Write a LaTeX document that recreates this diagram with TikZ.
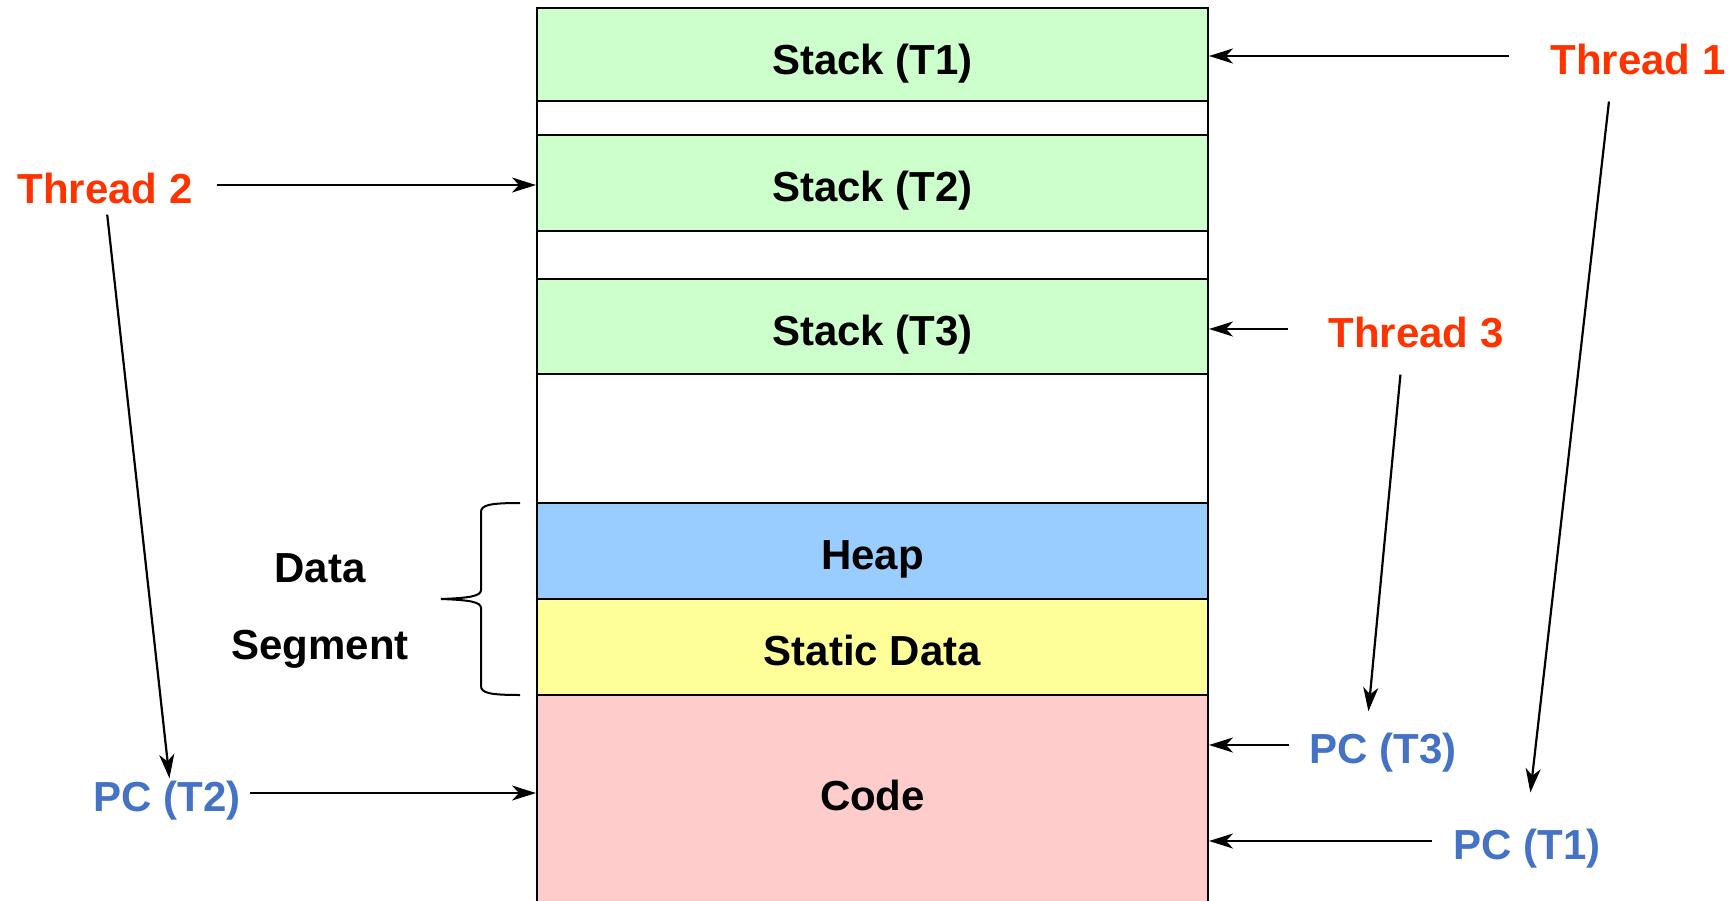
\documentclass[tikz,border=0pt]{standalone}
\usepackage{fontspec}
\setmainfont{Liberation Sans}
\usepackage{tikz}
\usetikzlibrary{arrows.meta,positioning}

\definecolor{stackgreen}{HTML}{CCFFCC}
\definecolor{heapblue}{HTML}{99CCFF}
\definecolor{dataylw}{HTML}{FFFF99}
\definecolor{codepink}{HTML}{FFCCCC}
\definecolor{thrred}{HTML}{FF3300}
\definecolor{pcblue}{HTML}{4472C4}

\tikzset{
  bigtxt/.style={font=\bfseries\fontsize{42}{50}\selectfont, text height=37pt, text depth=0pt},
  seg/.style={draw, line width=2pt, minimum width=671pt, inner sep=0pt, bigtxt},
  thr/.style={inner sep=0pt, text=thrred, bigtxt},
  pc/.style={inner sep=0pt, text=pcblue, bigtxt},
  arr/.style={line width=2.2pt, -{Stealth[length=24pt,width=15pt,inset=7pt]}}
}

\begin{document}
\begin{tikzpicture}[x=1pt,y=-1pt]
\useasboundingbox (0,0) rectangle (1732,900);

% address space
\node[seg, fill=stackgreen, minimum height=95pt] (stack1) at (872.5,55.5) {Stack (T1)};
\node[seg, fill=white, minimum height=32pt] (gap1) at (872.5,119) {};
\node[seg, fill=stackgreen, minimum height=96pt] (stack2) at (872.5,183) {Stack (T2)};
\node[seg, fill=white, minimum height=48pt] (gap2) at (872.5,255) {};
\node[seg, fill=stackgreen, minimum height=95pt] (stack3) at (872.5,326.5) {Stack (T3)};
\node[seg, fill=white, minimum height=129pt] (free) at (872.5,438.5) {};
\node[seg, fill=heapblue, minimum height=96pt] (heap) at (872.5,551) {Heap};
\node[seg, fill=dataylw, minimum height=96pt] (static) at (872.5,647) {Static Data};
\node[seg, fill=codepink, minimum height=211pt, text height=35pt, text depth=16pt] (code) at (872.5,800.5) {Code};

% data segment brace
\draw[line width=2pt] (520,503) .. controls (490,503) and (481,505) .. (481,512)
  -- (481,590) .. controls (481,596) and (470,598) .. (441,599)
  .. controls (470,600) and (481,602) .. (481,608)
  -- (481,686) .. controls (481,693) and (490,695) .. (520,695);
\node[align=center, inner sep=0pt, font=\bfseries\fontsize{42}{77}\selectfont] (dseg) at (320,611) {Data\\Segment};

% threads
\node[thr] (t1) at (1638,56) {Thread 1};
\node[thr] (t2) at (105,185) {Thread 2};
\node[thr] (t3) at (1416,329) {Thread 3};

% program counters
\node[pc] (pct1) at (1527,841) {PC (T1)};
\node[pc] (pct2) at (167,793) {PC (T2)};
\node[pc] (pct3) at (1383,745) {PC (T3)};

\draw[arr, shorten <=41pt] (t1.west) -- (t1.west -| stack1.east);
\draw[arr, shorten <=24pt] (t2.east) -- (t2.east -| stack2.west);
\draw[arr, shorten <=40pt] (t3.west) -- (t3.west -| stack3.east);
\draw[arr, shorten <=20pt] (pct3.west) -- (pct3.west -| code.east);
\draw[arr, shorten <=21pt] (pct1.west) -- (pct1.west -| code.east);
\draw[arr, shorten <=9pt] (pct2.east) -- (pct2.east -| code.west);

\draw[arr, shorten <=11pt, shorten >=-4pt] ([xshift=1pt]t2.south) -- ([xshift=2pt]pct2.north);
\draw[arr, shorten <=27pt, shorten >=15pt] ([xshift=-13pt]t3.south) -- ([xshift=-16pt]pct3.north);
\draw[arr, shorten <=27pt, shorten >=30pt] ([xshift=-26pt]t1.south) -- ([xshift=0pt]pct1.north);
\end{tikzpicture}
\end{document}
